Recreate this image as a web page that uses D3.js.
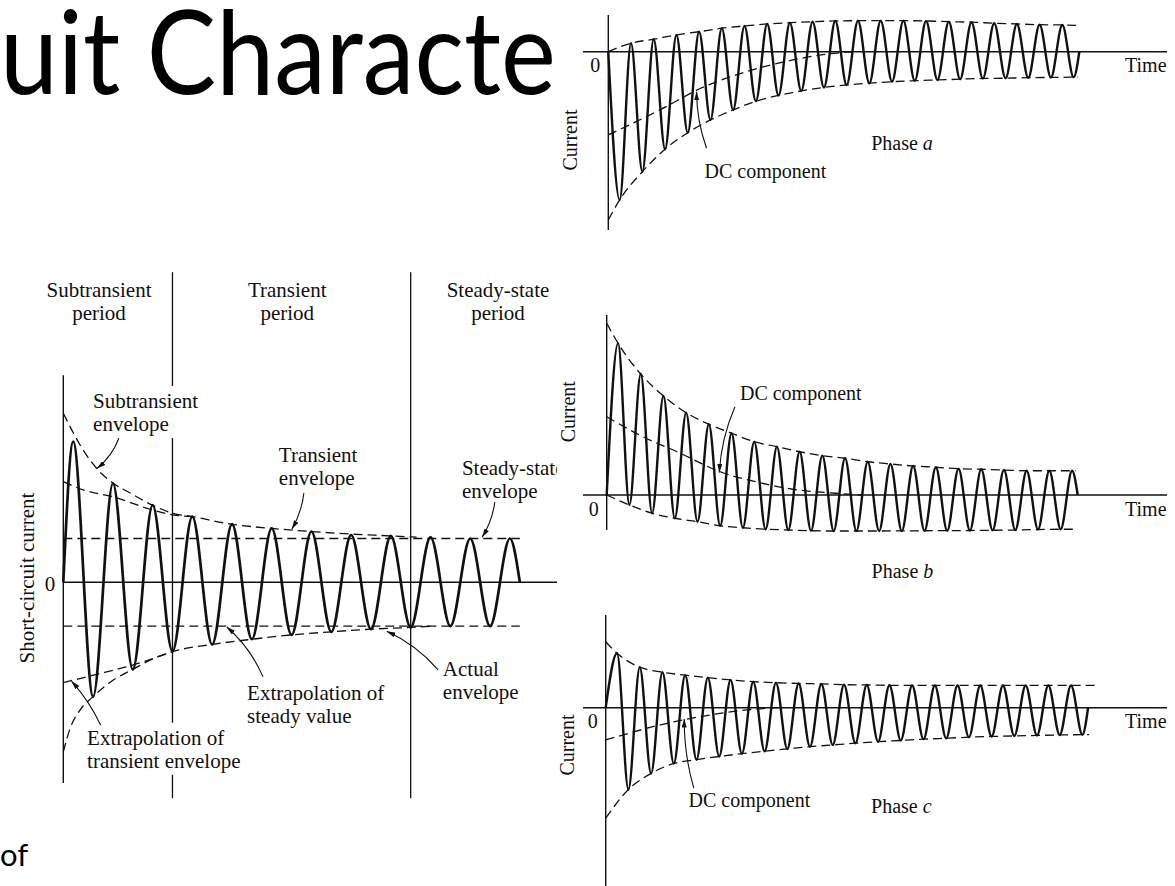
<!DOCTYPE html>
<html>
<head>
<meta charset="utf-8">
<script src="https://cdn.jsdelivr.net/npm/d3@7"></script>
<style>
  html, body { margin: 0; padding: 0; background: #fff; }
  svg { display: block; }
</style>
</head>
<body>
<svg id="fig" width="1175" height="886"></svg>
<script>
// ---------------------------------------------------------------
// Data. Time is in cycles of the supply frequency, current in
// multiples of the steady-state amplitude of each trace.
// ---------------------------------------------------------------

// Symmetrical short circuit: successive zero / peak / trough values
const symWave = [[0,0],[0.25,3.21],[0.75,-2.61],[1.25,2.26],[1.75,-1.99],[2.25,1.76],[2.75,-1.58],
  [3.25,1.50],[3.75,-1.42],[4.25,1.33],[4.75,-1.30],[5.25,1.23],[5.75,-1.20],[6.25,1.16],[6.75,-1.13],
  [7.25,1.08],[7.75,-1.07],[8.25,1.06],[8.75,-1.03],[9.25,1.03],[9.75,-1.00],[10.25,1.00],[10.75,-1.00],
  [11.25,1.00],[11.5,0]];
const symUpperEnvelope = [[0,3.86],[0.5,3.02],[0.88,2.56],[1.26,2.26],[1.68,2.04],[2.25,1.76],[2.75,1.58],
  [3.25,1.50],[4.22,1.33],[5.25,1.23],[6.24,1.16],[7.26,1.10],[8.23,1.06],[8.9,1.03]];
const symUpperTransient = [[0,2.30],[0.5,2.11],[1.26,1.95],[2.25,1.65],[2.75,1.54],[3.25,1.50]];
const symLowerEnvelope = [[0,-3.87],[0.17,-3.34],[0.42,-2.92],[0.75,-2.61],[1.26,-2.23],[1.75,-1.99],
  [2.27,-1.74],[2.76,-1.58],[3.74,-1.42],[4.75,-1.30],[5.75,-1.20],[6.76,-1.13],[7.74,-1.07],[8.74,-1.03],[9.3,-1.00]];
const symLowerTransient = [[0,-2.29],[0.76,-2.12],[1.75,-1.89],[2.76,-1.58]];
const symSteadyLevels = [1.0, -1.0];
const symSteadySpan = [0, 11.5];
const periodBounds = [2.75, 8.75];
const periodNames = [["Subtransient", "period"], ["Transient", "period"], ["Steady-state", "period"]];

// Phase a
const phaseAWave = [[0,0],[0.5,-5.93],[1,0.34],[1.5,-4.80],[2,0.50],[2.5,-3.90],[3,0.67],[3.5,-3.24],[4,0.80],
  [4.5,-2.73],[5,0.94],[5.5,-2.33],[6,1.03],[6.5,-1.98],[7,1.11],[7.5,-1.75],[8,1.16],[8.5,-1.57],[9,1.20],
  [9.5,-1.43],[10,1.23],[10.5,-1.33],[11,1.24],[11.5,-1.26],[12,1.24],[12.5,-1.20],[13,1.24],[13.5,-1.16],
  [14,1.23],[14.5,-1.13],[15,1.20],[15.5,-1.10],[16,1.18],[16.5,-1.07],[17,1.14],[17.5,-1.06],[18,1.11],
  [18.5,-1.04],[19,1.08],[19.5,-1.03],[20,1.07],[20.5,-1.02],[20.75,0]];
const phaseAUpper = [[0,0],[1,0.34],[2,0.50],[3,0.67],[4,0.80],[5,0.94],[6,1.03],[7,1.11],[8,1.16],[9,1.20],
  [10,1.23],[11,1.24],[12,1.24],[13,1.24],[14,1.23],[15,1.20],[16,1.18],[17,1.14],[18,1.11],[19,1.08],[20,1.07],[20.7,1.05]];
const phaseALower = [[0,-6.73],[0.5,-5.93],[1.5,-4.80],[2.5,-3.90],[3.5,-3.24],[4.5,-2.73],[5.5,-2.33],[6.5,-1.98],
  [7.5,-1.75],[8.5,-1.57],[9.5,-1.43],[10.5,-1.33],[11.5,-1.26],[12.5,-1.20],[13.5,-1.16],[14.5,-1.13],[15.5,-1.10],
  [16.5,-1.07],[17.5,-1.06],[18.5,-1.04],[19.5,-1.03],[20.5,-1.02],[20.7,-1.02]];
const phaseADc = [[0,-3.33],[2.27,-2.33],[4.18,-1.42],[6.08,-0.80],[8.13,-0.33],[9.6,-0.10],[10.75,0]];

// Phase b
const phaseBWave = [[0,0],[0.5,6.07],[1,-0.40],[1.5,4.84],[2,-0.73],[2.5,3.96],[3,-0.93],[3.5,3.29],[4,-1.07],
  [4.5,2.83],[5,-1.23],[5.5,2.47],[6,-1.31],[6.5,2.13],[7,-1.37],[7.5,1.93],[8,-1.40],[8.5,1.73],[9,-1.43],
  [9.5,1.57],[10,-1.44],[10.5,1.47],[11,-1.44],[11.5,1.33],[12,-1.44],[12.5,1.24],[13,-1.44],[13.5,1.16],
  [14,-1.43],[14.5,1.11],[15,-1.43],[15.5,1.05],[16,-1.42],[16.5,1.03],[17,-1.41],[17.5,1.00],[18,-1.40],
  [18.5,0.97],[19,-1.38],[19.5,0.97],[20,-1.37],[20.5,0.97],[20.75,0]];
const phaseBUpper = [[0,6.87],[0.5,6.07],[1.5,4.84],[2.5,3.96],[3.5,3.29],[4.5,2.83],[5.5,2.47],[6.5,2.13],
  [7.5,1.93],[8.5,1.73],[9.5,1.57],[10.5,1.47],[11.5,1.33],[12.5,1.24],[13.5,1.16],[14.5,1.11],[15.5,1.05],
  [16.5,1.03],[17.5,1.00],[18.5,0.97],[19.5,0.97],[20.65,0.97]];
const phaseBLower = [[0,0],[1,-0.40],[2,-0.73],[3,-0.93],[4,-1.07],[5,-1.23],[6,-1.31],[7,-1.37],[8,-1.40],
  [9,-1.43],[10,-1.44],[12,-1.44],[14,-1.43],[16,-1.42],[18,-1.40],[20,-1.37],[20.65,-1.37]];
const phaseBDc = [[0,3.13],[1.6,2.33],[3.1,1.73],[5,0.93],[6.75,0.49],[8.2,0.23],[10.1,0.07],[11.2,0]];

// Phase c
const phaseCWave = [[0,0],[0.5,2.18],[1,-3.27],[1.5,1.62],[2,-2.63],[2.5,1.42],[3,-2.23],[3.5,1.30],[4,-2.08],
  [4.5,1.20],[5,-1.95],[5.5,1.11],[6,-1.84],[6.5,1.04],[7,-1.74],[7.5,1.00],[8,-1.65],[8.5,0.97],[9,-1.56],
  [9.5,0.95],[10,-1.49],[10.5,0.92],[11,-1.42],[11.5,0.91],[12,-1.36],[12.5,0.90],[13,-1.31],[13.5,0.89],
  [14,-1.26],[14.5,0.89],[15,-1.22],[15.5,0.89],[16,-1.18],[16.5,0.89],[17,-1.15],[17.5,0.89],[18,-1.13],
  [18.5,0.89],[19,-1.11],[19.5,0.89],[20,-1.09],[20.5,0.89],[21,-1.08],[21.25,0]];
const phaseCUpper = [[0,2.64],[0.5,2.18],[1.5,1.62],[2.5,1.42],[3.5,1.30],[4.5,1.20],[5.5,1.11],[6.5,1.04],
  [7.5,1.00],[8.5,0.97],[9.5,0.95],[10.5,0.92],[11.5,0.91],[13,0.89],[21.55,0.89]];
const phaseCLower = [[0,-4.42],[1,-3.27],[2,-2.63],[3,-2.23],[4,-2.08],[5,-1.95],[6,-1.84],[7,-1.74],[8,-1.65],
  [9,-1.56],[10,-1.49],[11,-1.42],[12,-1.36],[13,-1.31],[14,-1.26],[15,-1.22],[16,-1.18],[17,-1.15],[18,-1.13],
  [19,-1.11],[20,-1.09],[21,-1.08],[21.3,-1.08]];
const phaseCDc = [[0,-1.29],[2.4,-0.69],[4.6,-0.29],[6.2,-0.09],[7.6,0]];

// ---------------------------------------------------------------
// Drawing
// ---------------------------------------------------------------
const W = 1175, H = 886;
const INK = "#111";
const SERIF = '"Liberation Serif","Times New Roman",Times,serif';
const SANS = 'Lato,"Open Sans","Liberation Sans",sans-serif';

const svg = d3.select("#fig");
svg.append("rect").attr("width", W).attr("height", H).attr("fill", "#fff");

const defs = svg.append("defs");
defs.append("marker")
  .attr("id", "head")
  .attr("viewBox", "0 0 9 5")
  .attr("refX", 8.6).attr("refY", 2.5)
  .attr("markerWidth", 9).attr("markerHeight", 5)
  .attr("markerUnits", "userSpaceOnUse")
  .attr("orient", "auto")
  .append("path").attr("d", "M0,0L9,2.5L0,5Z").attr("fill", INK);
defs.append("clipPath").attr("id", "leftClip")
  .append("rect").attr("x", 0).attr("y", 0).attr("width", 557).attr("height", H);

function curveLine(x, y, curve) {
  return d3.line().x(d => x(d[0])).y(d => y(d[1])).curve(curve || d3.curveMonotoneX);
}

function dashed(g, gen, data) {
  g.append("path").attr("d", gen(data)).attr("fill", "none")
    .attr("stroke", INK).attr("stroke-width", 1.3).attr("stroke-dasharray", "9,5");
}

function rule(g, x1, y1, x2, y2, w) {
  g.append("line").attr("x1", x1).attr("y1", y1).attr("x2", x2).attr("y2", y2)
    .attr("stroke", INK).attr("stroke-width", w || 1.4);
}

function label(g, lines, x, y, size, lh, anchor) {
  const t = g.append("text").attr("x", x).attr("y", y)
    .attr("font-family", SERIF).attr("font-size", size).attr("fill", INK)
    .attr("text-anchor", anchor || "start");
  lines.forEach((s, i) => t.append("tspan").attr("x", x).attr("dy", i ? lh : 0).text(s));
  return t;
}

// curved leader with an arrowhead at its end
function leader(g, p0, p1, bend) {
  const dx = p1[0] - p0[0], dy = p1[1] - p0[1], len = Math.hypot(dx, dy);
  const cx = (p0[0] + p1[0]) / 2 - dy / len * bend;
  const cy = (p0[1] + p1[1]) / 2 + dx / len * bend;
  g.append("path").attr("d", `M${p0[0]},${p0[1]}Q${cx},${cy} ${p1[0]},${p1[1]}`)
    .attr("fill", "none").attr("stroke", INK).attr("stroke-width", 1.1)
    .attr("marker-end", "url(#head)");
}

// ---------- slide text behind the figures ----------
const slide = svg.append("g").attr("clip-path", "url(#leftClip)");
const title = slide.append("text")
  .attr("font-family", SANS).attr("font-size", 116).attr("fill", "#000")
  .text("uit Characte");
const titleWidth = title.node().getComputedTextLength();
title.attr("transform", `translate(0,94) scale(${556 / titleWidth},1)`);
slide.append("text").attr("x", 0).attr("y", 866)
  .attr("font-family", SANS).attr("font-size", 31).attr("fill", "#000")
  .text("of");

// ---------- symmetrical short-circuit current ----------
{
  const g = svg.append("g").attr("clip-path", "url(#leftClip)");
  const x0 = 63.3, cycle = 39.7, zero = 582.3, unit = 43.8;
  const sx = d3.scaleLinear().domain([0, 1]).range([x0, x0 + cycle]);
  const sy = d3.scaleLinear().domain([-1, 1]).range([zero + unit, zero - unit]);
  const smooth = curveLine(sx, sy);
  const straight = curveLine(sx, sy, d3.curveLinear);

  // steady-state and envelope lines
  symSteadyLevels.forEach(v => dashed(g, straight, symSteadySpan.map(t => [t, v])));
  dashed(g, smooth, symUpperEnvelope);
  dashed(g, smooth, symUpperTransient);
  dashed(g, smooth, symLowerEnvelope);
  dashed(g, smooth, symLowerTransient);

  // axes
  rule(g, sx(0), sy(4.73), sx(0), sy(-4.58));
  rule(g, sx(0), zero, 557, zero);

  // current trace
  g.append("path").attr("d", smooth(symWave)).attr("fill", "none")
    .attr("stroke", INK).attr("stroke-width", 2.7).attr("stroke-linejoin", "round");

  const F = 21, LH = 23;
  label(g, ["0"], 50, zero + 9, F, LH, "middle");
  g.append("text").attr("transform", `translate(34,578) rotate(-90)`)
    .attr("font-family", SERIF).attr("font-size", F).attr("fill", INK)
    .attr("text-anchor", "middle").text("Short-circuit current");

  // period headings
  const headingAt = [0.90, 5.64, 10.95];
  periodNames.forEach((n, i) => label(g, n, sx(headingAt[i]), sy(6.51), F, LH, "middle"));

  // envelope annotations
  const notes = [
    { lines: ["Subtransient", "envelope"], at: [0.75, 3.98], from: [1.40, 3.29], to: [0.85, 2.60], bend: -5 },
    { lines: ["Transient", "envelope"], at: [5.43, 2.75], from: [6.06, 2.04], to: [5.76, 1.22], bend: -4 },
    { lines: ["Steady-state", "envelope"], at: [10.04, 2.45], from: [10.87, 1.83], to: [10.55, 1.03], bend: -4 },
    { lines: ["Extrapolation of", "transient envelope"], at: [0.60, -3.71], from: [0.94, -3.26], to: [0.21, -2.26], bend: 4 },
    { lines: ["Extrapolation of", "steady value"], at: [4.63, -2.69], from: [5.03, -2.16], to: [4.12, -1.02], bend: 7 },
    { lines: ["Actual", "envelope"], at: [9.56, -2.14], from: [9.44, -2.00], to: [8.15, -1.12], bend: 7 }
  ];
  const boxes = [];
  notes.forEach(n => {
    const t = label(g, n.lines, sx(n.at[0]), sy(n.at[1]), F, LH);
    boxes.push(t.node().getBBox());
    leader(g, [sx(n.from[0]), sy(n.from[1])], [sx(n.to[0]), sy(n.to[1])], n.bend);
  });

  // period dividers, broken where a label crosses them
  periodBounds.forEach(b => {
    const xd = sx(b);
    const gaps = boxes.filter(bb => bb.x - 4 < xd && bb.x + bb.width + 4 > xd)
      .map(bb => [bb.y - 3, bb.y + bb.height + 2]).sort((a, c) => a[0] - c[0]);
    let y = sy(7.08);
    gaps.forEach(([a, c]) => { if (a > y) rule(g, xd, y, xd, a, 1.3); y = Math.max(y, c); });
    rule(g, xd, y, xd, sy(-4.93), 1.3);
  });
}

// ---------- three-phase currents ----------
function phasePanel(cfg) {
  const g = svg.append("g");
  const cycle = 22.7, unit = 25;
  const sx = d3.scaleLinear().domain([0, 1]).range([cfg.x0, cfg.x0 + cycle]);
  const sy = d3.scaleLinear().domain([-1, 1]).range([cfg.zero + unit, cfg.zero - unit]);
  const smooth = curveLine(sx, sy);

  dashed(g, smooth, cfg.upper);
  dashed(g, smooth, cfg.lower);
  dashed(g, smooth, cfg.dc);

  rule(g, cfg.x0, cfg.top, cfg.x0, cfg.bottom);
  rule(g, 583, cfg.zero, 1167, cfg.zero);

  g.append("path").attr("d", smooth(cfg.wave)).attr("fill", "none")
    .attr("stroke", INK).attr("stroke-width", 2.4).attr("stroke-linejoin", "round");

  const F = 20;
  label(g, ["0"], cfg.x0 - 13, cfg.zero + 20.5, F, 0, "middle");
  label(g, ["Time"], 1125, cfg.zero + 20.5, F, 0);
  g.append("text").attr("transform", `translate(${cfg.x0 - 31.6},${cfg.labelY}) rotate(-90)`)
    .attr("font-family", SERIF).attr("font-size", F).attr("fill", INK)
    .attr("text-anchor", "middle").text("Current");

  label(g, ["DC component"], sx(cfg.dcText[0]), sy(cfg.dcText[1]), F, 0);
  leader(g, [sx(cfg.dcFrom[0]), sy(cfg.dcFrom[1])], [sx(cfg.dcTo[0]), sy(cfg.dcTo[1])], cfg.bend);

  const ph = g.append("text").attr("x", sx(cfg.phaseAt[0])).attr("y", sy(cfg.phaseAt[1]))
    .attr("font-family", SERIF).attr("font-size", F).attr("fill", INK);
  ph.append("tspan").text("Phase ");
  ph.append("tspan").attr("font-style", "italic").text(cfg.name);
}

phasePanel({ name: "a", x0: 608.3, zero: 51.7, top: 15, bottom: 230, labelY: 140,
  wave: phaseAWave, upper: phaseAUpper, lower: phaseALower, dc: phaseADc,
  dcText: [4.24, -5.06], dcFrom: [4.33, -3.86], dcTo: [3.89, -1.60], bend: -5, phaseAt: [11.58, -3.93] });
phasePanel({ name: "b", x0: 606.7, zero: 495, top: 315, bottom: 530, labelY: 411.7,
  wave: phaseBWave, upper: phaseBUpper, lower: phaseBLower, dc: phaseBDc,
  dcText: [5.87, 3.80], dcFrom: [5.65, 3.53], dcTo: [4.96, 0.90], bend: 6, phaseAt: [11.67, -3.33] });
phasePanel({ name: "c", x0: 605.7, zero: 707.7, top: 615, bottom: 886, labelY: 745,
  wave: phaseCWave, upper: phaseCUpper, lower: phaseCLower, dc: phaseCDc,
  dcText: [3.65, -3.96], dcFrom: [3.88, -3.22], dcTo: [3.46, -0.45], bend: -5, phaseAt: [11.69, -4.22] });
</script>
</body>
</html>
